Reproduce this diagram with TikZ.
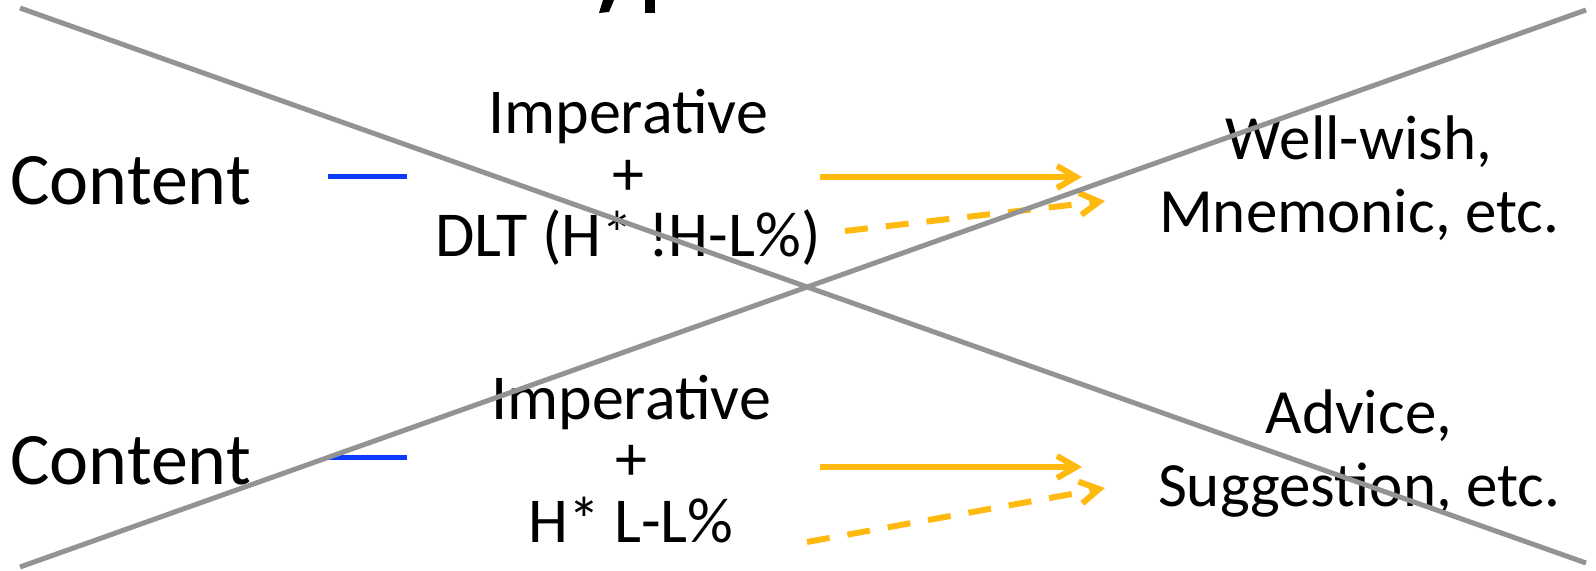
\documentclass[tikz,border=0pt]{standalone}
\usepackage{fontspec}
\setmainfont{Carlito}
\usetikzlibrary{arrows.meta}
\definecolor{xgray}{HTML}{939393}
\definecolor{xblue}{HTML}{0A3BFF}
\definecolor{xorange}{HTML}{FFB90F}
\begin{document}
\begin{tikzpicture}[x=0.5pt,y=-0.5pt,
  cross/.style={draw=xgray,line width=2.5pt},
  link/.style={draw=xblue,line width=2.5pt},
  arr/.style={draw=xorange,line width=3pt,-{Straight Barb[length=9.5pt,width=11pt,line width=3pt]}},
  darr/.style={arr,dash pattern=on 11.5pt off 9pt},
  big/.style={font=\fontsize{37}{37}\selectfont,inner sep=0pt,anchor=base west},
  mid/.style={font=\fontsize{32}{30.75}\selectfont,align=center,inner sep=0pt,anchor=base},
  res/.style={font=\fontsize{31.5}{36.5}\selectfont,align=center,inner sep=0pt,anchor=base}]
\useasboundingbox[fill=white] (0,0) rectangle (1596,571);
% cut-off title fragments
\fill[black] (603,0) -- (614,0) -- (609,12) -- (599,13) -- cycle;
\fill[black] (645,0) -- (655,0) -- (655,13) -- (645,13) -- cycle;
% texts
\node[big] (c1) at (10,205) {Content};
\node[big] (c2) at (10,485) {Content};
\node[mid] (m1) at (628,257) {Imperative\\+\\DLT (H* !H-L\%)};
\node[mid] (m2) at (631,542) {Imperative\\+\\H* L-L\%};
\node[res] (r1) at (1359,233) {Well-wish,\\Mnemonic, etc.};
\node[res] (r2) at (1359,507) {Advice,\\Suggestion, etc.};
% connector ends
\coordinate (b1s) at (328,177); \coordinate (b1e) at (407,177);
\coordinate (b2s) at (328,458); \coordinate (b2e) at (407,458);
\coordinate (s1s) at (820,177); \coordinate (s1e) at (1082,177);
\coordinate (d1s) at (845,231); \coordinate (d1e) at (1105,201);
\coordinate (s2s) at (820,467); \coordinate (s2e) at (1082,467);
\coordinate (d2s) at (807,542); \coordinate (d2e) at (1105,488);
\coordinate (x1) at (20,8); \coordinate (x2) at (1586,563);
\coordinate (x3) at (20,567); \coordinate (x4) at (1586,10);
\draw[link] (b1s) -- (b1e);
\draw[link] (b2s) -- (b2e);
\draw[arr] (s1s) -- (s1e);
\draw[darr] (d1s) -- (d1e);
\draw[arr] (s2s) -- (s2e);
\draw[darr] (d2s) -- (d2e);
\draw[cross] (x1) -- (x2);
\draw[cross] (x3) -- (x4);
\end{tikzpicture}
\end{document}
